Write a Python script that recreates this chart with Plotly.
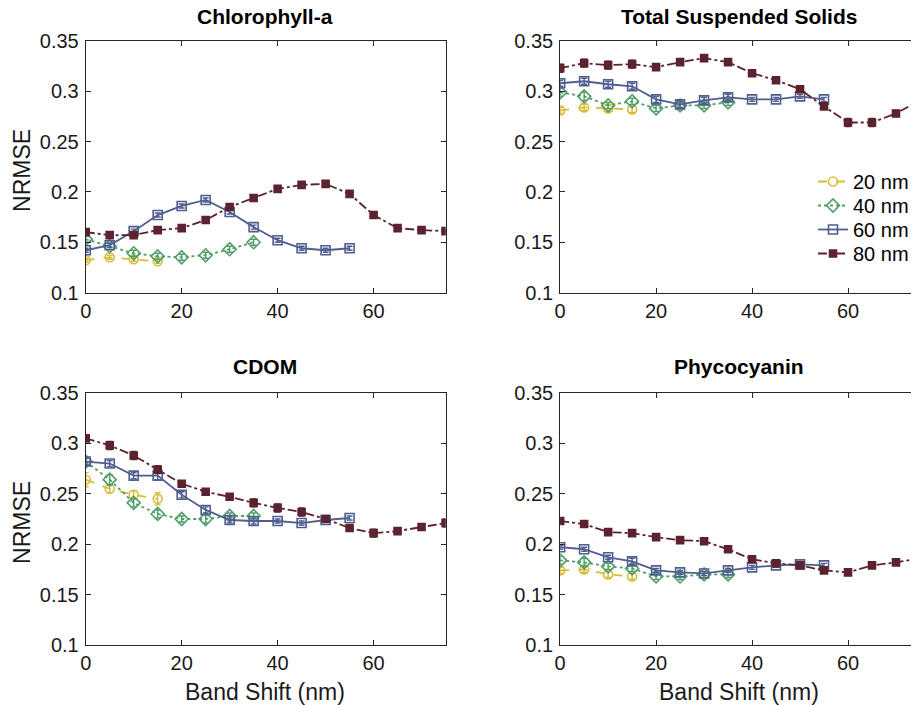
import plotly.graph_objects as go

# ---------------- data ----------------
band_shift = [0, 5, 10, 15, 20, 25, 30, 35, 40, 45, 50, 55, 60, 65, 70, 75]
widths = ["20 nm", "40 nm", "60 nm", "80 nm"]
panel_titles = ["Chlorophyll-a", "Total Suspended Solids", "CDOM", "Phycocyanin"]
y_label = "NRMSE"
x_label = "Band Shift (nm)"
y_ticks = [0.1, 0.15, 0.2, 0.25, 0.3, 0.35]
y_ticktext = ["0.1", "0.15", "0.2", "0.25", "0.3", "0.35"]
x_ticks = [0, 20, 40, 60]

chl_20 = [0.132, 0.135, 0.133, 0.131]
chl_40 = [0.153, 0.146, 0.139, 0.136, 0.135, 0.137, 0.143, 0.150]
chl_60 = [0.142, 0.147, 0.161, 0.177, 0.186, 0.192, 0.180, 0.165, 0.152, 0.144, 0.142, 0.144]
chl_80 = [0.160, 0.157, 0.157, 0.162, 0.164, 0.172, 0.185, 0.194, 0.203, 0.207, 0.208, 0.198,
          0.177, 0.164, 0.162, 0.161]

tss_20 = [0.281, 0.284, 0.283, 0.282]
tss_40 = [0.299, 0.295, 0.286, 0.290, 0.283, 0.286, 0.286, 0.289]
tss_60 = [0.308, 0.310, 0.307, 0.305, 0.292, 0.287, 0.291, 0.294, 0.292, 0.292, 0.295, 0.292]
tss_80 = [0.323, 0.328, 0.326, 0.327, 0.324, 0.329, 0.333, 0.329, 0.318, 0.311, 0.302, 0.285,
          0.269, 0.269, 0.278, 0.291]

cdom_20 = [0.264, 0.255, 0.249, 0.245]
cdom_40 = [0.282, 0.264, 0.241, 0.230, 0.225, 0.225, 0.228, 0.228]
cdom_60 = [0.282, 0.280, 0.268, 0.268, 0.249, 0.234, 0.224, 0.223, 0.223, 0.221, 0.224, 0.226]
cdom_80 = [0.305, 0.298, 0.288, 0.274, 0.260, 0.252, 0.247, 0.241, 0.236, 0.232, 0.225, 0.216,
           0.211, 0.213, 0.217, 0.221]

pc_20 = [0.174, 0.175, 0.170, 0.168]
pc_40 = [0.184, 0.182, 0.178, 0.176, 0.168, 0.168, 0.170, 0.170]
pc_60 = [0.197, 0.195, 0.187, 0.183, 0.174, 0.172, 0.171, 0.174, 0.177, 0.179, 0.180, 0.179]
pc_80 = [0.223, 0.220, 0.212, 0.211, 0.207, 0.204, 0.203, 0.195, 0.185, 0.181, 0.179, 0.174,
         0.172, 0.179, 0.182, 0.186]

# error bar half-widths (estimated)
chl_err_20 = [0.002, 0.002, 0.002, 0.002]
chl_err_40 = [0.003, 0.003, 0.003, 0.003, 0.003, 0.003, 0.003, 0.003]
chl_err_60 = [0.002, 0.002, 0.002, 0.002, 0.002, 0.002, 0.002, 0.002, 0.002, 0.002, 0.002, 0.002]
chl_err_80 = [0.003, 0.003, 0.003, 0.003, 0.003, 0.003, 0.003, 0.003, 0.003, 0.003, 0.003, 0.003,
              0.002, 0.002, 0.002, 0.002]
tss_err_20 = [0.003, 0.003, 0.003, 0.003]
tss_err_40 = [0.004, 0.004, 0.003, 0.003, 0.003, 0.003, 0.003, 0.003]
tss_err_60 = [0.003, 0.003, 0.003, 0.003, 0.003, 0.003, 0.003, 0.003, 0.002, 0.002, 0.002, 0.002]
tss_err_80 = [0.004, 0.004, 0.004, 0.004, 0.003, 0.003, 0.003, 0.003, 0.003, 0.003, 0.003, 0.003,
              0.004, 0.004, 0.003, 0.003]
cdom_err_20 = [0.007, 0.004, 0.004, 0.006]
cdom_err_40 = [0.004, 0.005, 0.004, 0.004, 0.003, 0.004, 0.003, 0.003]
cdom_err_60 = [0.003, 0.003, 0.003, 0.004, 0.003, 0.003, 0.003, 0.003, 0.002, 0.002, 0.002, 0.002]
cdom_err_80 = [0.003, 0.004, 0.004, 0.004, 0.003, 0.003, 0.003, 0.004, 0.004, 0.004, 0.003, 0.003,
               0.004, 0.003, 0.003, 0.004]
pc_err_20 = [0.003, 0.003, 0.003, 0.003]
pc_err_40 = [0.004, 0.004, 0.003, 0.003, 0.003, 0.003, 0.003, 0.003]
pc_err_60 = [0.002, 0.002, 0.002, 0.003, 0.002, 0.002, 0.002, 0.002, 0.002, 0.002, 0.002, 0.002]
pc_err_80 = [0.002, 0.003, 0.003, 0.003, 0.002, 0.002, 0.003, 0.003, 0.003, 0.002, 0.002, 0.002,
             0.002, 0.002, 0.002, 0.002]

panels = [
    [chl_20, chl_40, chl_60, chl_80],
    [tss_20, tss_40, tss_60, tss_80],
    [cdom_20, cdom_40, cdom_60, cdom_80],
    [pc_20, pc_40, pc_60, pc_80],
]
panel_errs = [
    [chl_err_20, chl_err_40, chl_err_60, chl_err_80],
    [tss_err_20, tss_err_40, tss_err_60, tss_err_80],
    [cdom_err_20, cdom_err_40, cdom_err_60, cdom_err_80],
    [pc_err_20, pc_err_40, pc_err_60, pc_err_80],
]

# ---------------- style ----------------
colors = ["#d8be38", "#4f9e68", "#4f5d8f", "#5c232e"]
dashes = ["dash", "dot", "solid", "dashdot"]
symbols = ["circle-open", "diamond-open", "square-open", "square"]
msizes = [9, 10, 9, 7]
FONT = "Liberation Sans, Arial, Helvetica, sans-serif"
AX = "#262626"
TXT = "#1a1a1a"

W, H = 914, 705


def fx(sx):
    return sx / W


def fy(sy):
    return 1 - sy / H


px_per_unit = 361 / 75
xdom = [[fx(86), fx(447)], [fx(562), 1.0]]
xrng = [[0, 75], [0, (914 - 562) / px_per_unit]]
ydom = [[fy(292.5), fy(41)], [fy(645), fy(393)]]

fig = go.Figure()
legend_names = ["legend", "legend2", "legend3", "legend4"]

for p in range(4):
    col = p % 2
    row = p // 2
    ax = "" if p == 0 else str(p + 1)
    for s in range(4):
        vals = panels[p][s]
        fig.add_trace(go.Scatter(
            x=band_shift[:len(vals)], y=vals,
            error_y=dict(type="data", array=panel_errs[p][s], color=colors[s],
                         thickness=1.4, width=3),
            mode="lines+markers",
            name=widths[s],
            line=dict(color=colors[s], width=1.8, dash=dashes[s]),
            marker=dict(symbol=symbols[s], size=msizes[s], color=colors[s],
                        line=dict(color=colors[s], width=1.6)),
            xaxis="x" + ax, yaxis="y" + ax,
            showlegend=(p == 1),
            legend=legend_names[s],
        ))
    xa = dict(domain=xdom[col], range=xrng[col], tickvals=x_ticks,
              ticks="inside", ticklen=5, tickcolor=AX, showline=True, linecolor=AX,
              linewidth=1, mirror="ticks", showgrid=False, zeroline=False,
              tickfont=dict(size=20, color=TXT), anchor="y" + ax,
              automargin=False, fixedrange=True)
    ya = dict(domain=ydom[row], range=[0.1, 0.35], tickvals=y_ticks, ticktext=y_ticktext,
              ticks="inside", ticklen=5, tickcolor=AX, showline=True, linecolor=AX,
              linewidth=1, mirror=("ticks" if col == 0 else False), showgrid=False,
              zeroline=False, tickfont=dict(size=20, color=TXT), anchor="x" + ax,
              ticklabelstandoff=2, automargin=False, fixedrange=True)
    fig.layout["xaxis" + ax] = xa
    fig.layout["yaxis" + ax] = ya

title_pos = [(266, 16), (741, 16), (266, 366), (741, 366)]
for p in range(4):
    px, py = title_pos[p]
    fig.add_annotation(text="<b>" + panel_titles[p] + "</b>", x=fx(px), y=fy(py),
                       xref="paper", yref="paper", showarrow=False,
                       font=dict(size=21, color="#000000"), xanchor="center", yanchor="middle")

for py in [170, 522]:
    fig.add_annotation(text=y_label, x=fx(22), y=fy(py), xref="paper", yref="paper",
                       showarrow=False, textangle=-90, font=dict(size=23, color=TXT),
                       xanchor="center", yanchor="middle")
for px in [266, 741]:
    fig.add_annotation(text=x_label, x=fx(px), y=fy(692), xref="paper", yref="paper",
                       showarrow=False, font=dict(size=23, color=TXT),
                       xanchor="center", yanchor="middle")

layout_legends = {}
for s in range(4):
    layout_legends[legend_names[s]] = dict(
        x=fx(816), y=fy(162 + 24 * s), xanchor="left", yanchor="top",
        bgcolor="rgba(0,0,0,0)", font=dict(size=20, color="#000000"),
        itemwidth=30)

fig.update_layout(
    width=W, height=H,
    margin=dict(l=0, r=0, t=0, b=0),
    paper_bgcolor="white", plot_bgcolor="white",
    font=dict(family=FONT, color=TXT),
    **layout_legends,
)

fig.write_html(
    "out.html",
    config={"displayModeBar": False},
    post_script="document.body.style.margin='0';document.body.style.overflow='hidden';",
)
